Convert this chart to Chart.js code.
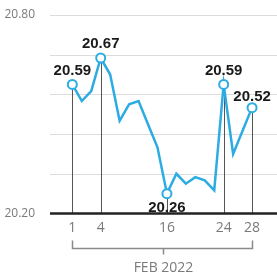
<!DOCTYPE html>
<html>
<head>
<meta charset="utf-8">
<script src="https://cdn.jsdelivr.net/npm/chart.js@4"></script>
<style>
  html, body { margin: 0; padding: 0; background: #fff; overflow: hidden; }
  #wrap { width: 277px; height: 278px; position: relative; }
  canvas { display: block; }
</style>
</head>
<body>
<div id="wrap"><canvas id="rateChart"></canvas></div>
<script>
// Values
const tradingDays = [1, 2, 3, 4, 7, 8, 9, 10, 11, 14, 16, 17, 18, 21, 22, 23, 24, 25, 27, 28];
const rates = [20.59, 20.54, 20.57, 20.67, 20.62, 20.48, 20.53, 20.54, 20.47, 20.40,
               20.26, 20.32, 20.29, 20.31, 20.30, 20.27, 20.59, 20.38, 20.45, 20.52];
const markedDays = [1, 4, 16, 24, 28];
const labelBelowDays = [16];
const yRange = [20.20, 20.80];
const yStep = 0.12;
const periodLabel = 'FEB 2022';

const LINE_BLUE = '#2cace2';
const GREY_TEXT = '#7a7a7a';

const points = rates.map((v, i) => ({ x: i, y: v }));
const isMarked = i => markedDays.includes(tradingDays[i]);

// grid, base line, drop lines, value labels, day labels and the month bracket
const annotations = {
    id: 'annotations',
    beforeDatasetsDraw(chart) {
        const { ctx, scales, chartArea } = chart;
        const base = scales.y.getPixelForValue(yRange[0]);
        ctx.save();
        // horizontal grid from the y scale ticks
        ctx.strokeStyle = '#dcdcdc';
        ctx.lineWidth = 1;
        scales.y.ticks.forEach(t => {
            if (t.value === yRange[0]) return;
            const y = Math.round(scales.y.getPixelForValue(t.value)) + 0.5;
            ctx.beginPath();
            ctx.moveTo(chartArea.left, y);
            ctx.lineTo(chart.width, y);
            ctx.stroke();
        });
        // drop lines
        ctx.strokeStyle = '#555';
        points.forEach((p, i) => {
            if (!isMarked(i)) return;
            const x = Math.round(scales.x.getPixelForValue(p.x)) + 0.5;
            ctx.beginPath();
            ctx.moveTo(x, scales.y.getPixelForValue(p.y));
            ctx.lineTo(x, base);
            ctx.stroke();
        });
        // base line
        ctx.strokeStyle = '#222';
        ctx.lineWidth = 2.5;
        ctx.beginPath();
        ctx.moveTo(chartArea.left, base);
        ctx.lineTo(chart.width, base);
        ctx.stroke();
        ctx.restore();
    },
    afterDatasetsDraw(chart) {
        const { ctx, scales } = chart;
        ctx.save();
        ctx.font = 'bold 15px "Liberation Sans", Arial, sans-serif';
        ctx.fillStyle = '#1a1a1a';
        ctx.textAlign = 'center';
        ctx.textBaseline = 'middle';
        points.forEach((p, i) => {
            if (!isMarked(i)) return;
            const x = scales.x.getPixelForValue(p.x);
            const y = scales.y.getPixelForValue(p.y);
            const below = labelBelowDays.includes(tradingDays[i]);
            const gap = i === points.length - 1 ? 11 : 14;
            ctx.fillText(p.y.toFixed(2), x, below ? y + 14 : y - gap);
        });
        ctx.restore();
    },
    afterDraw(chart) {
        const { ctx, scales } = chart;
        const base = scales.y.getPixelForValue(yRange[0]);
        ctx.save();
        // day labels under the axis
        ctx.fillStyle = GREY_TEXT;
        ctx.font = '14px "Open Sans", sans-serif';
        ctx.textAlign = 'center';
        ctx.textBaseline = 'middle';
        points.forEach((p, i) => {
            if (!isMarked(i)) return;
            ctx.fillText(String(tradingDays[i]), scales.x.getPixelForValue(p.x), base + 15);
        });
        // month bracket
        const x0 = Math.round(scales.x.getPixelForValue(0)) + 0.5;
        const x1 = Math.round(scales.x.getPixelForValue(points.length - 1)) + 0.5;
        const mid = Math.round((x0 + x1) / 2) + 0.5;
        const yLine = Math.round(base + 34) + 0.5;
        ctx.strokeStyle = '#8a8a8a';
        ctx.lineWidth = 1.5;
        ctx.beginPath();
        ctx.moveTo(x0, yLine - 8);
        ctx.lineTo(x0, yLine);
        ctx.lineTo(x1, yLine);
        ctx.lineTo(x1, yLine - 8);
        ctx.moveTo(mid, yLine);
        ctx.lineTo(mid, yLine + 6);
        ctx.stroke();
        ctx.fillText(periodLabel, mid, yLine + 20);
        ctx.restore();
    }
};

new Chart(document.getElementById('rateChart'), {
    type: 'line',
    data: {
        datasets: [{
            data: points,
            borderColor: LINE_BLUE,
            borderWidth: 2.5,
            tension: 0,
            pointRadius: ctx => isMarked(ctx.dataIndex) ? 4.5 : 0,
            pointBackgroundColor: '#ffffff',
            pointBorderColor: LINE_BLUE,
            pointBorderWidth: 2,
            pointHoverRadius: 0
        }]
    },
    options: {
        responsive: true,
        maintainAspectRatio: false,
        animation: false,
        events: [],
        layout: { padding: { top: 15, right: 0, left: 0, bottom: 42.5 } },
        plugins: {
            legend: { display: false },
            tooltip: { enabled: false }
        },
        scales: {
            x: {
                type: 'linear',
                min: -2.36,
                max: 20.95,
                afterFit(scale) {
                    scale.height = 22;
                    scale.paddingLeft = 0;
                    scale.paddingRight = 0;
                },
                ticks: { display: false },
                grid: { display: false },
                border: { display: false }
            },
            y: {
                min: yRange[0],
                max: yRange[1],
                afterBuildTicks(scale) {
                    const ticks = [];
                    const n = Math.round((yRange[1] - yRange[0]) / yStep);
                    for (let k = 0; k <= n; k++) {
                        ticks.push({ value: k === 0 ? yRange[0] : k === n ? yRange[1] : +(yRange[0] + k * yStep).toFixed(2) });
                    }
                    scale.ticks = ticks;
                },
                afterFit(scale) { scale.width = 50; },
                ticks: {
                    color: GREY_TEXT,
                    font: { family: '"Open Sans", sans-serif', size: 12 },
                    padding: 7,
                    callback: v => yRange.includes(v) ? v.toFixed(2) : ''
                },
                grid: { display: false },
                border: { display: false }
            }
        }
    },
    plugins: [annotations]
});
</script>
</body>
</html>
